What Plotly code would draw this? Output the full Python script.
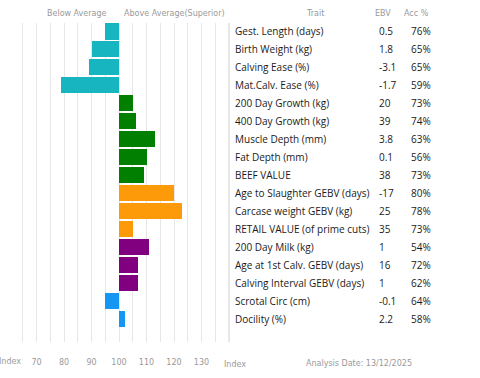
import plotly.graph_objects as go

traits = ["Gest. Length (days)", "Birth Weight (kg)", "Calving Ease (%)", "Mat.Calv. Ease (%)",
          "200 Day Growth (kg)", "400 Day Growth (kg)", "Muscle Depth (mm)", "Fat Depth (mm)",
          "BEEF VALUE", "Age to Slaughter GEBV (days)", "Carcase weight GEBV (kg)",
          "RETAIL VALUE (of prime cuts)", "200 Day Milk (kg)", "Age at 1st Calv. GEBV (days)",
          "Calving Interval GEBV (days)", "Scrotal Circ (cm)", "Docility (%)"]
index_vals = [95, 90, 89, 79, 105, 106, 113, 110, 109, 120, 123, 105, 111, 107, 107, 95, 102]
ebv = ["0.5", "1.8", "-3.1", "-1.7", "20", "39", "3.8", "0.1", "38", "-17", "25", "35",
       "1", "16", "1", "-0.1", "2.2"]
acc = ["76%", "65%", "65%", "59%", "73%", "74%", "63%", "56%", "73%", "80%", "78%", "73%",
       "54%", "72%", "62%", "64%", "58%"]
groups = ["calving"] * 4 + ["growth"] * 5 + ["carcase"] * 3 + ["maternal"] * 3 + ["other"] * 2
group_colors = {"calving": "#17b5c0", "growth": "#007f00", "carcase": "#fd9a0a",
                "maternal": "#800080", "other": "#1596f2"}
tick_vals = [70, 80, 90, 100, 110, 120, 130]
tick_text = ["70", "80", "90", "100", "110", "120", "130"]
axis_label = "Index"
base_index = 100
analysis_date = "13/12/2025"

W, H = 480, 378
L, R, T, B = 9, 229, 23, 342

def px_x(px):
    return (px - L) / (R - L)

def px_y(py):
    return (B - py) / (B - T)

rows = list(range(len(traits)))
fig = go.Figure()
fig.add_trace(go.Bar(
    y=rows,
    x=[v - base_index for v in index_vals],
    base=base_index,
    orientation="h",
    marker=dict(color=[group_colors[g] for g in groups], line=dict(width=0)),
    width=0.9,
    hoverinfo="skip",
))

ann = []
hdr_font = dict(family="DejaVu Sans", size=8, color="#9a9a9a")
txt_font = dict(family="Open Sans", size=10, color="#1a1a1a")
for i in rows:
    ann.append(dict(x=px_x(233), y=i, xref="paper", yref="y", text=traits[i], showarrow=False,
                    xanchor="left", yanchor="middle", font=txt_font))
    ann.append(dict(x=px_x(377), y=i, xref="paper", yref="y", text=ebv[i], showarrow=False,
                    xanchor="left", yanchor="middle", font=txt_font))
    ann.append(dict(x=px_x(409), y=i, xref="paper", yref="y", text=acc[i], showarrow=False,
                    xanchor="left", yanchor="middle", font=txt_font))

for text, cx in [("Below Average", 77), ("Above Average(Superior)", 174), ("Trait", 315),
                 ("EBV", 383), ("Acc %", 416)]:
    ann.append(dict(x=px_x(cx), y=px_y(13), xref="paper", yref="paper", text=text,
                    showarrow=False, xanchor="center", yanchor="middle", font=hdr_font))
ann.append(dict(x=px_x(359), y=px_y(363), xref="paper", yref="paper",
                text="Analysis Date: " + analysis_date, showarrow=False,
                xanchor="center", yanchor="middle", font=hdr_font))
ann.append(dict(x=60, y=px_y(362), xref="x", yref="paper", text=axis_label, showarrow=False,
                xanchor="center", yanchor="middle", xshift=1, font=hdr_font))
ann.append(dict(x=px_x(235), y=px_y(364), xref="paper", yref="paper", text=axis_label,
                showarrow=False, xanchor="center", yanchor="middle", font=hdr_font))

n = len(traits)
fig.update_layout(
    width=W, height=H,
    margin=dict(l=L, r=W - R, t=T, b=H - B, pad=0, autoexpand=False),
    paper_bgcolor="white", plot_bgcolor="white",
    showlegend=False,
    bargap=0,
    annotations=ann,
    shapes=[dict(type="line", xref="paper", yref="paper", x0=1, x1=1, y0=0, y1=1,
                 line=dict(color="#cfcfcf", width=1))],
    xaxis=dict(range=[60, 140], tickvals=tick_vals, ticktext=tick_text, automargin=False,
               showgrid=True, gridcolor="#e6e6e6", gridwidth=1,
               minor=dict(dtick=5, tick0=60, showgrid=True, gridcolor="#e6e6e6", gridwidth=1),
               zeroline=False, showline=False, ticks="",
               ticklabelstandoff=14,
               tickfont=dict(family="DejaVu Sans", size=8, color="#9a9a9a")),
    yaxis=dict(range=[n - 1 + 22 / 17, -8 / 17], showticklabels=False, showgrid=False,
               automargin=False, zeroline=False, showline=False, ticks=""),
)

fig.write_html("out.html", config={"displayModeBar": False, "staticPlot": True},
               post_script="document.body.style.margin='0';document.body.style.overflow='hidden';")
